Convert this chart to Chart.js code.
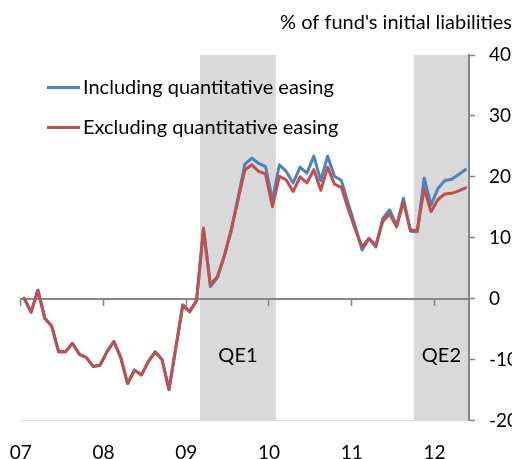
<!DOCTYPE html>
<html>
<head>
<meta charset="utf-8">
<script src="https://cdn.jsdelivr.net/npm/chart.js@4/dist/chart.umd.min.js"></script>
<style>
  html, body { margin: 0; padding: 0; background: #fff; overflow: hidden; }
  #wrap { width: 522px; height: 459px; position: relative; overflow: hidden; }
  #c { display: block; }
</style>
</head>
<body>
<div id="wrap"><canvas id="c" width="522" height="459"></canvas></div>
<script>
// ---- Data ----
const months = [
  '2007-01','2007-02','2007-03','2007-04','2007-05','2007-06','2007-07','2007-08','2007-09','2007-10','2007-11','2007-12',
  '2008-01','2008-02','2008-03','2008-04','2008-05','2008-06','2008-07','2008-08','2008-09','2008-10','2008-11','2008-12',
  '2009-01','2009-02','2009-03','2009-04','2009-05','2009-06','2009-07','2009-08','2009-09','2009-10','2009-11','2009-12',
  '2010-01','2010-02','2010-03','2010-04','2010-05','2010-06','2010-07','2010-08','2010-09','2010-10','2010-11','2010-12',
  '2011-01','2011-02','2011-03','2011-04','2011-05','2011-06','2011-07','2011-08','2011-09','2011-10','2011-11','2011-12',
  '2012-01','2012-02','2012-03','2012-04','2012-05'
];

const includingQE = [
  0.1, -2.2, 1.4, -3.2, -4.5, -8.7, -8.7, -7.3, -9.1, -9.6, -11.1, -10.9,
  -8.7, -7.0, -9.6, -13.9, -11.7, -12.5, -10.3, -8.7, -10.0, -14.9, -8.0, -1.0,
  -2.1, -0.3, 11.4, 2.0, 3.4, 7.0, 11.0, 16.5, 22.1, 23.1, 22.2, 21.7,
  16.2, 22.0, 20.9, 19.0, 21.6, 20.6, 23.4, 19.4, 23.4, 20.1, 19.4, 15.6,
  11.9, 8.0, 9.9, 8.5, 13.2, 14.6, 12.0, 16.5, 11.1, 11.0, 19.8, 15.4,
  18.1, 19.4, 19.6, 20.4, 21.2
];

const excludingQE = [
  0.1, -2.2, 1.4, -3.2, -4.5, -8.7, -8.7, -7.3, -9.1, -9.6, -11.1, -10.9,
  -8.7, -7.0, -9.6, -13.9, -11.7, -12.5, -10.3, -8.7, -10.0, -14.9, -8.0, -1.0,
  -2.1, -0.3, 11.6, 2.3, 3.6, 6.9, 11.3, 16.2, 21.1, 22.0, 20.9, 20.5,
  15.1, 20.1, 19.5, 17.6, 20.0, 19.0, 21.2, 17.8, 21.6, 18.8, 18.3, 14.7,
  11.4, 8.5, 9.9, 8.8, 12.7, 13.9, 11.8, 15.9, 11.3, 11.2, 18.1, 14.3,
  16.3, 17.2, 17.3, 17.7, 18.2
];

const yearLabels = ['07', '08', '09', '10', '11', '12'];
const yearStartMonths = ['2007-01', '2008-01', '2009-01', '2010-01', '2011-01', '2012-01'];

const qeNames = ['QE1', 'QE2'];
const qeStart = ['2009-03', '2011-10'];
const qeEnd = ['2010-01', '2012-05'];

const seriesNames = ['Including quantitative easing', 'Excluding quantitative easing'];
const axisTitle = "% of fund's initial liabilities";

// ---- Styling ----
const FONT_FAMILY = "Lato, 'Open Sans', 'DejaVu Sans', sans-serif";
const FONT_SIZE = 20;
const TICK_SIZE = 19;
const BLUE = '#4f81bd';
const RED = '#c0504d';
const AXIS_GREY = '#868686';
const SHADE = '#d9d9d9';

// month index -> point sits in the middle of its month slot
const toPoints = arr => arr.map((v, i) => ({ x: i + 0.5, y: v }));
const yearTickValues = () => yearStartMonths.map(m => ({ value: months.indexOf(m) }));

const qePlugin = {
  id: 'qeShading',
  beforeDraw(chart) {
    const { ctx, chartArea: a, scales: { x } } = chart;
    ctx.save();
    ctx.fillStyle = SHADE;
    qeNames.forEach((name, k) => {
      const x0 = x.getPixelForValue(months.indexOf(qeStart[k]));
      const x1 = x.getPixelForValue(months.indexOf(qeEnd[k]) + 1);
      ctx.fillRect(x0, a.top, x1 - x0, a.bottom - a.top);
    });
    ctx.restore();
  },
  afterDatasetsDraw(chart) {
    const { ctx, scales: { x, y } } = chart;
    ctx.save();
    ctx.font = FONT_SIZE + 'px ' + FONT_FAMILY;
    ctx.fillStyle = '#000';
    ctx.textAlign = 'center';
    ctx.textBaseline = 'middle';
    qeNames.forEach((name, k) => {
      const x0 = x.getPixelForValue(months.indexOf(qeStart[k]));
      const x1 = x.getPixelForValue(months.indexOf(qeEnd[k]) + 1);
      ctx.fillText(name, (x0 + x1) / 2, y.getPixelForValue(-9.3));
    });
    ctx.restore();
  }
};

const insideLegendPlugin = {
  id: 'insideLegend',
  afterDraw(chart) {
    const { ctx, chartArea: a } = chart;
    ctx.save();
    ctx.font = FONT_SIZE + 'px ' + FONT_FAMILY;
    ctx.textAlign = 'left';
    ctx.textBaseline = 'middle';
    chart.data.datasets.forEach((ds, i) => {
      const yy = a.top + 32.5 + 40 * i;
      const x0 = a.left + 26.3;
      ctx.strokeStyle = ds.borderColor;
      ctx.lineWidth = 3;
      ctx.lineCap = 'butt';
      ctx.beginPath();
      ctx.moveTo(x0, yy);
      ctx.lineTo(x0 + 33, yy);
      ctx.stroke();
      ctx.fillStyle = '#000';
      ctx.fillText(ds.label, x0 + 36, yy);
    });
    ctx.restore();
  }
};

const noSidePadding = s => { s.paddingLeft = 0; s.paddingRight = 0; };

function build() {
  Chart.defaults.font.family = FONT_FAMILY;
  Chart.defaults.font.size = FONT_SIZE;
  Chart.defaults.color = '#000';

  new Chart(document.getElementById('c'), {
    type: 'line',
    data: {
      datasets: [
        {
          label: seriesNames[0],
          data: toPoints(includingQE),
          borderColor: BLUE,
          backgroundColor: BLUE,
          borderWidth: 3,
          pointRadius: 0,
          tension: 0,
          fill: false,
          borderJoinStyle: 'round',
          borderCapStyle: 'round',
          order: 1
        },
        {
          label: seriesNames[1],
          data: toPoints(excludingQE),
          borderColor: RED,
          backgroundColor: RED,
          borderWidth: 3,
          pointRadius: 0,
          tension: 0,
          fill: false,
          borderJoinStyle: 'round',
          borderCapStyle: 'round',
          order: 0
        }
      ]
    },
    options: {
      responsive: false,
      devicePixelRatio: 1,
      animation: false,
      layout: { padding: { left: 20.7, right: 10, top: 0, bottom: 0 } },
      plugins: {
        legend: { display: false },
        tooltip: { enabled: false },
        title: {
          display: true,
          text: axisTitle,
          align: 'end',
          color: '#000',
          font: { size: FONT_SIZE, weight: 'normal', family: FONT_FAMILY },
          padding: { top: 11, bottom: 20 }
        }
      },
      scales: {
        x: {
          type: 'linear',
          position: 'bottom',
          min: 0,
          max: months.length,
          afterBuildTicks: s => { s.ticks = yearTickValues(); },
          afterFit: s => { s.height = 38.3; noSidePadding(s); },
          grid: { display: true, drawOnChartArea: false, drawTicks: false },
          border: { display: true, color: SHADE, width: 1 },
          ticks: {
            padding: 21,
            autoSkip: false,
            maxRotation: 0,
            color: '#000',
            font: { size: TICK_SIZE, family: FONT_FAMILY },
            callback: (v, i) => yearLabels[i]
          }
        },
        x0: {
          type: 'linear',
          axis: 'x',
          position: { y: 0 },
          min: 0,
          max: months.length,
          afterBuildTicks: s => { s.ticks = yearTickValues(); },
          afterFit: noSidePadding,
          grid: { display: true, drawOnChartArea: false, drawTicks: true, tickLength: 6, tickColor: AXIS_GREY, tickWidth: 1.5 },
          border: { display: true, color: AXIS_GREY, width: 2 },
          ticks: { display: false }
        },
        y: {
          position: 'right',
          min: -20,
          max: 40,
          afterFit: s => { s.width = 43; },
          grid: { display: true, drawOnChartArea: false, drawTicks: true, tickLength: 6, tickColor: AXIS_GREY, tickWidth: 1.5 },
          border: { display: true, color: AXIS_GREY, width: 2 },
          ticks: {
            stepSize: 10,
            padding: 14,
            color: '#000',
            font: { size: TICK_SIZE, family: FONT_FAMILY }
          }
        }
      }
    },
    plugins: [qePlugin, insideLegendPlugin]
  });
}

if (document.fonts && document.fonts.load) {
  document.fonts.load(FONT_SIZE + 'px Lato').then(build, build);
} else {
  build();
}
</script>
</body>
</html>
